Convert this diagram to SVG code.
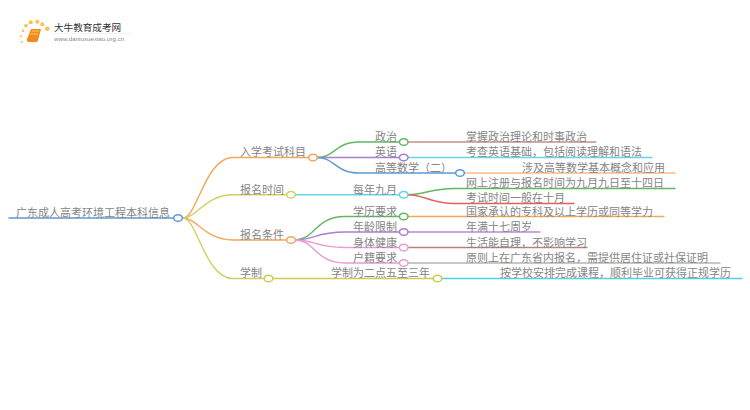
<svg xmlns="http://www.w3.org/2000/svg" width="750" height="410" viewBox="0 0 750 410">
<style>
text{font-family:"Noto Sans CJK SC","Liberation Sans",sans-serif;font-size:11px;fill:#858585}
.c{fill:none;stroke-width:1.4;stroke-linecap:round}
.n{fill:#fff;stroke-width:1.5}
</style>
<rect width="750" height="410" fill="#fff"/>
<g id="logo">
<g fill="#f9c04a"><circle cx="26" cy="25.700" r="1.800"/><circle cx="23" cy="30.700" r="1.300"/><circle cx="30.700" cy="22.300" r="2"/><circle cx="37.300" cy="21.700" r="2"/><circle cx="42.300" cy="24.300" r="2"/><circle cx="47.300" cy="28.700" r="2.300"/><circle cx="21" cy="36.300" r="1.100"/><circle cx="21.700" cy="41.700" r="1"/></g>
<path d="M31 29H41L38 40.500Q37.500 42 36 42H28Q26.500 41.500 27 39Z" fill="#f28c1e"/>
<path d="M31.500 31H39M30.500 34H38" stroke="#ffc766" stroke-width="1" fill="none"/>
<text x="54" y="31" style="font-size:9.600px;fill:#333">大牛教育成考网</text>
<text x="54" y="40.500" style="font-size:6.200px;fill:#888;font-family:'Liberation Sans',sans-serif">www.daniuxuexiao.org.cn</text>
<path d="M54 33.500H132" stroke="#eee" stroke-width="0.700"/>
</g>
<g id="connectors">
<path class="c" d="M9 218H174" stroke="#5b9bd5" stroke-width="1.700"/>
<path class="c" d="M183 218C197 218 205 157.500 233 157.500H309" stroke="#f5a65b"/>
<path class="c" d="M183 218C197 218 205 194.700 233 194.700H287" stroke="#d3cf5f"/>
<path class="c" d="M183 218C197 218 205 240 233 240H287" stroke="#f5a65b"/>
<path class="c" d="M183 218C197 218 205 278.500 233 278.500H264" stroke="#d3cf5f"/>
<path class="c" d="M317 157.500C335 157.500 335 142 359 142H400" stroke="#62b862"/>
<path class="c" d="M317 157.500H400" stroke="#a67fd0"/>
<path class="c" d="M317 157.500C335 157.500 335 173 359 173H456" stroke="#5b9bd5"/>
<path class="c" d="M295 194.700H400" stroke="#5fd6e6"/>
<path class="c" d="M295 240C315 240 315 216.500 345 216.500H400" stroke="#62b862"/>
<path class="c" d="M295 240C315 240 315 232 345 232H400" stroke="#a67fd0"/>
<path class="c" d="M295 240C315 240 315 247.500 345 247.500H400" stroke="#ea9bd8"/>
<path class="c" d="M295 240C315 240 315 263 345 263H400" stroke="#ea9bd8"/>
<path class="c" d="M273 278.500H433" stroke="#cfcb4f"/>
<path class="c" d="M408 142H596" stroke="#c4928a"/>
<path class="c" d="M408 157.500H652" stroke="#67d3e8"/>
<path class="c" d="M464 173H675" stroke="#fbbd86"/>
<path class="c" d="M408 194.700C425 194.700 430 188.500 455 188.500H675" stroke="#62b862"/>
<path class="c" d="M408 194.700C425 194.700 430 203.500 455 203.500H574" stroke="#e26060"/>
<path class="c" d="M408 216.500H664" stroke="#f5a65b"/>
<path class="c" d="M408 232H540" stroke="#b58ad8"/>
<path class="c" d="M408 247.500H587" stroke="#b9837c"/>
<path class="c" d="M408 263H720" stroke="#b5b5b5"/>
<path class="c" d="M442 278.500H742" stroke="#4fd3e0"/>
</g>
<g id="root"><text x="16" y="217">广东成人高考环境工程本科信息</text><ellipse class="n" cx="178" cy="218" rx="4.300" ry="3.300" stroke="#5b9bd5"/></g>
<g id="n1"><text x="240" y="156">入学考试科目</text><ellipse class="n" cx="313" cy="157.500" rx="4.300" ry="3.300" stroke="#f5a65b"/></g>
<g id="n2"><text x="240" y="194">报名时间</text><ellipse class="n" cx="291" cy="194.700" rx="4.300" ry="3.300" stroke="#d3cf5f"/></g>
<g id="n3"><text x="240" y="239">报名条件</text><ellipse class="n" cx="291" cy="240" rx="4.300" ry="3.300" stroke="#f5a65b"/></g>
<g id="n4"><text x="240" y="277">学制</text><ellipse class="n" cx="268.500" cy="278.500" rx="4.300" ry="3.300" stroke="#cfcb4f"/></g>
<g id="n11"><text x="375" y="141">政治</text><ellipse class="n" cx="403.700" cy="142" rx="4.300" ry="3.300" stroke="#62b862"/></g>
<g id="n12"><text x="375" y="156">英语</text><ellipse class="n" cx="403.700" cy="157.500" rx="4.300" ry="3.300" stroke="#a67fd0"/></g>
<g id="n13"><text x="375" y="172">高等数学（二）</text><ellipse class="n" cx="460" cy="173" rx="4.300" ry="3.300" stroke="#5b9bd5"/></g>
<g id="n21"><text x="353" y="194">每年九月</text><ellipse class="n" cx="403.700" cy="194.700" rx="4.300" ry="3.300" stroke="#5fd6e6"/></g>
<g id="n31"><text x="353" y="216">学历要求</text><ellipse class="n" cx="403.700" cy="216.500" rx="4.300" ry="3.300" stroke="#62b862"/></g>
<g id="n32"><text x="353" y="231">年龄限制</text><ellipse class="n" cx="403.700" cy="232" rx="4.300" ry="3.300" stroke="#a67fd0"/></g>
<g id="n33"><text x="353" y="246.500">身体健康</text><ellipse class="n" cx="403.700" cy="247.500" rx="4.300" ry="3.300" stroke="#ea9bd8"/></g>
<g id="n34"><text x="353" y="262">户籍要求</text><ellipse class="n" cx="403.700" cy="263" rx="4.300" ry="3.300" stroke="#ea9bd8"/></g>
<g id="n41"><text x="331" y="277">学制为二点五至三年</text><ellipse class="n" cx="437.500" cy="278.500" rx="4.300" ry="3.300" stroke="#cfcb4f"/></g>
<g id="l1"><text x="466" y="141">掌握政治理论和时事政治</text></g>
<g id="l2"><text x="466" y="156">考查英语基础，包括阅读理解和语法</text></g>
<g id="l3"><text x="522" y="172">涉及高等数学基本概念和应用</text></g>
<g id="l4"><text x="466" y="186.500">网上注册与报名时间为九月九日至十四日</text></g>
<g id="l5"><text x="466" y="201.500">考试时间一般在十月</text></g>
<g id="l6"><text x="466" y="216">国家承认的专科及以上学历或同等学力</text></g>
<g id="l7"><text x="466" y="231">年满十七周岁</text></g>
<g id="l8"><text x="466" y="246.500">生活能自理，不影响学习</text></g>
<g id="l9"><text x="466" y="262">原则上在广东省内报名，需提供居住证或社保证明</text></g>
<g id="l10"><text x="500" y="277">按学校安排完成课程，顺利毕业可获得正规学历</text></g>
</svg>
